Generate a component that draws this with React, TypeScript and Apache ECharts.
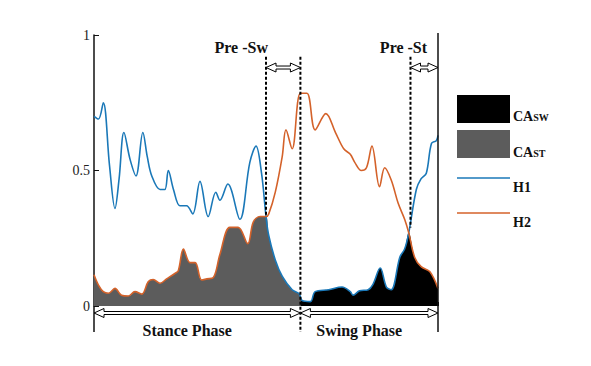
import React, { useEffect, useRef } from "react";
import * as echarts from "echarts";

// Gait cycle (%) vs normalized activation
const H1: [number, number][] = [
  [0, 0.70], [1.3, 0.69], [2.7, 0.75], [4.5, 0.52], [6.1, 0.36], [7.3, 0.47], [8.7, 0.64],
  [10.5, 0.54], [12.2, 0.48], [14.2, 0.64], [15.5, 0.55], [16.8, 0.48], [19.2, 0.43],
  [20.6, 0.43], [21.6, 0.50], [23.1, 0.43], [25.0, 0.37], [26.9, 0.37], [28.7, 0.34],
  [30.8, 0.46], [33.2, 0.33], [35.4, 0.42], [36.6, 0.39], [38.9, 0.45], [42.4, 0.32],
  [45.3, 0.53], [47.1, 0.59], [48.7, 0.49], [50, 0.33], [50.8, 0.26], [52.7, 0.17],
  [54.7, 0.11], [57.6, 0.06], [59.5, 0.047], [60, 0.034], [60.5, 0.02], [62.9, 0.016],
  [64.3, 0.053], [68.2, 0.06], [72.1, 0.07], [74.5, 0.053], [75.3, 0.04], [77.2, 0.056],
  [79.7, 0.06], [81.1, 0.08], [83.2, 0.14], [85, 0.07], [86.4, 0.06], [88.9, 0.18],
  [90.3, 0.21], [91.5, 0.27], [93.7, 0.43], [95.1, 0.47], [96.6, 0.49], [98.1, 0.60],
  [99.5, 0.61], [100, 0.63],
];

const H2: [number, number][] = [
  [0, 0.115], [1.3, 0.077], [2.7, 0.053], [4.2, 0.047], [6.1, 0.065], [8, 0.04], [10, 0.037],
  [11.9, 0.053], [13.9, 0.044], [15.8, 0.09], [17.2, 0.098], [19.2, 0.084], [21.1, 0.10],
  [23.5, 0.12], [24.5, 0.13], [26, 0.21], [27.9, 0.16], [29.4, 0.16], [31.3, 0.096],
  [32.8, 0.10], [34.7, 0.105], [36.6, 0.19], [39.5, 0.29], [41.9, 0.29], [44.7, 0.23],
  [46.3, 0.31], [48.3, 0.33], [50, 0.33], [50.8, 0.34], [52.7, 0.42], [54.7, 0.55],
  [55.8, 0.65], [57.6, 0.58], [60, 0.785], [61.9, 0.785], [64.3, 0.65], [67.4, 0.71],
  [70.2, 0.64], [72.6, 0.58], [74.5, 0.56], [75.8, 0.53], [77.7, 0.50], [79.2, 0.51],
  [80.8, 0.59], [83, 0.44], [84.5, 0.51], [86.4, 0.465], [88.4, 0.38], [90.3, 0.32],
  [91.5, 0.27], [93.2, 0.18], [95.1, 0.145], [97.6, 0.127], [100, 0.065],
];

const PRE_SW_START = 50;
const PHASE_SPLIT = 60;
const PRE_ST_START = 92;
const CYCLE_END = 100;
const CROSS_SW = 0.33;
const CROSS_ST = 0.29;
const MARK_TOP = 0.92;
const ARROW_LEVEL = 0.88;
const Y_TICKS = [0, 0.5, 1];

const BLUE = "#1a78b8";
const ORANGE = "#d4622a";
const GRAY = "#5c5c5c";
const SERIF = "'Liberation Serif', 'Times New Roman', serif";

function arrowPoints(x1: number, x2: number, y: number) {
  const h = 10, hw = 4.5, sw = 1.5;
  return [
    [x1, y], [x1 + h, y - hw], [x1 + h, y - sw], [x2 - h, y - sw], [x2 - h, y - hw],
    [x2, y], [x2 - h, y + hw], [x2 - h, y + sw], [x1 + h, y + sw], [x1 + h, y + hw],
  ];
}

export default function App() {
  const ref = useRef<HTMLDivElement>(null);
  useEffect(() => {
    document.body.style.margin = "0";
    const chart = echarts.init(ref.current!, null, { renderer: "svg" });
    const grayFill = [
      ...H2.filter((d) => d[0] <= PRE_SW_START),
      ...H1.filter((d) => d[0] > PRE_SW_START && d[0] <= PHASE_SPLIT),
    ];
    const blackFill = [
      ...H1.filter((d) => d[0] >= PHASE_SPLIT && d[0] <= 91.5),
      ...H2.filter((d) => d[0] > 91.5),
    ];
    const smooth = 0.35;
    chart.setOption({
      animation: false,
      grid: { left: 94, right: 153, top: 35, bottom: 60 },
      xAxis: {
        type: "value", min: 0, max: CYCLE_END, interval: 50,
        axisLine: { show: false },
        axisTick: { show: true, inside: true, length: 4, lineStyle: { color: "#000" } },
        axisLabel: { show: false },
        splitLine: { show: false },
      },
      yAxis: {
        type: "value", min: Y_TICKS[0], max: Y_TICKS[2], interval: 0.5,
        axisLine: { show: true, lineStyle: { color: "#111", width: 1.5 } },
        axisTick: { show: true, inside: true, length: 5, lineStyle: { color: "#111" } },
        axisLabel: { color: "#222", fontFamily: SERIF, fontSize: 14, margin: 4 },
        splitLine: { show: false },
      },
      series: [
        {
          name: "CAST", type: "line", data: grayFill, smooth, symbol: "none",
          lineStyle: { width: 0 }, areaStyle: { color: GRAY, opacity: 1 }, z: 1,
        },
        {
          name: "CASW", type: "line", data: blackFill, smooth, symbol: "none",
          lineStyle: { width: 0 }, areaStyle: { color: "#000", opacity: 1 }, z: 1,
        },
        {
          name: "H1", type: "line", data: H1, smooth, symbol: "none",
          lineStyle: { color: BLUE, width: 1.6 }, z: 3,
        },
        {
          name: "H2", type: "line", data: H2, smooth, symbol: "none",
          lineStyle: { color: ORANGE, width: 1.6 }, z: 3,
        },
      ],
    });

    const px = (x: number, y: number) =>
      chart.convertToPixel({ gridIndex: 0 }, [x, y]) as number[];
    const [x0, y0] = px(0, 0);
    const [xSw] = px(PRE_SW_START, 0);
    const [xSplit] = px(PHASE_SPLIT, 0);
    const [xSt] = px(PRE_ST_START, 0);
    const [xEnd] = px(CYCLE_END, 0);
    const yTop = px(0, MARK_TOP)[1];
    const yArrow = px(0, ARROW_LEVEL)[1];
    const yCrossSw = px(0, CROSS_SW)[1];
    const yCrossSt = px(0, CROSS_ST)[1];
    const yAxisTop = px(0, 1)[1];
    const yBottomArrow = y0 + 7;
    const yBottomEnd = y0 + 26;

    const dash = { stroke: "#000", lineWidth: 2, lineDash: [3, 2] };
    const solid = { stroke: "#111", lineWidth: 1.5 };
    const arrowStyle = { fill: "#fff", stroke: "#000", lineWidth: 1 };
    const boldText = (text: string, x: number, y: number, align: string, size = 16) => ({
      type: "text", x, y,
      style: { text, fill: "#111", font: `bold ${size}px ${SERIF}`, align, verticalAlign: "middle" },
      z: 10,
    });

    const legendX = 457;
    const legendW = 53;
    const rich = {
      a: { fontFamily: SERIF, fontWeight: "bold", fontSize: 14, fill: "#111", lineHeight: 16, verticalAlign: "bottom" },
      b: { fontFamily: SERIF, fontWeight: "bold", fontSize: 10, fill: "#111", lineHeight: 16, verticalAlign: "bottom", padding: [0, 0, 1, 0] },
    };
    const caText = (sub: string, y: number) => ({
      type: "text", x: legendX + legendW + 3, y,
      style: {
        text: `{a|CA}{b|${sub}}`, rich, verticalAlign: "middle",
        fontFamily: SERIF, fontWeight: "bold", fontSize: 14, fill: "#111",
      },
      z: 10,
    });

    chart.setOption({
      graphic: [
        // right frame and axis extensions
        { type: "line", shape: { x1: xEnd, y1: yAxisTop - 2, x2: xEnd, y2: yBottomEnd }, style: solid, z: 5 },
        { type: "line", shape: { x1: x0, y1: y0, x2: x0, y2: yBottomEnd }, style: solid, z: 5 },
        // dashed markers
        { type: "line", shape: { x1: xSw, y1: yTop, x2: xSw, y2: yCrossSw }, style: dash, z: 6 },
        { type: "line", shape: { x1: xSplit, y1: yTop, x2: xSplit, y2: yBottomEnd }, style: dash, z: 6 },
        { type: "line", shape: { x1: xSt, y1: yTop, x2: xSt, y2: yCrossSt }, style: dash, z: 6 },
        // top arrows
        { type: "polygon", shape: { points: arrowPoints(xSw, xSplit, yArrow) }, style: arrowStyle, z: 7 },
        { type: "polygon", shape: { points: arrowPoints(xSt, xEnd, yArrow) }, style: arrowStyle, z: 7 },
        boldText("Pre -Sw", xSw + 2, yTop - 9, "right"),
        boldText("Pre -St", xSt - 7, yTop - 9, "center"),
        // bottom arrows
        { type: "polygon", shape: { points: arrowPoints(x0, xSplit, yBottomArrow) }, style: arrowStyle, z: 7 },
        { type: "polygon", shape: { points: arrowPoints(xSplit, xEnd, yBottomArrow) }, style: arrowStyle, z: 7 },
        boldText("Stance Phase", (x0 + xSplit) / 2 - 10, y0 + 24, "center"),
        boldText("Swing Phase", (xSplit + xEnd) / 2 - 10, y0 + 24, "center"),
        // legend
        { type: "rect", shape: { x: legendX, y: 95, width: legendW, height: 28 }, style: { fill: "#000" } },
        caText("SW", 115),
        { type: "rect", shape: { x: legendX, y: 130, width: legendW, height: 28 }, style: { fill: GRAY } },
        caText("ST", 151),
        { type: "line", shape: { x1: legendX, y1: 178, x2: legendX + legendW, y2: 178 }, style: { stroke: BLUE, lineWidth: 1.6 } },
        boldText("H1", legendX + legendW + 3, 187, "left", 14),
        { type: "line", shape: { x1: legendX, y1: 213, x2: legendX + legendW, y2: 213 }, style: { stroke: ORANGE, lineWidth: 1.6 } },
        boldText("H2", legendX + legendW + 3, 222, "left", 14),
      ],
    });
    return () => chart.dispose();
  }, []);
  return <div ref={ref} style={{ width: 591, height: 366 }} />;
}
